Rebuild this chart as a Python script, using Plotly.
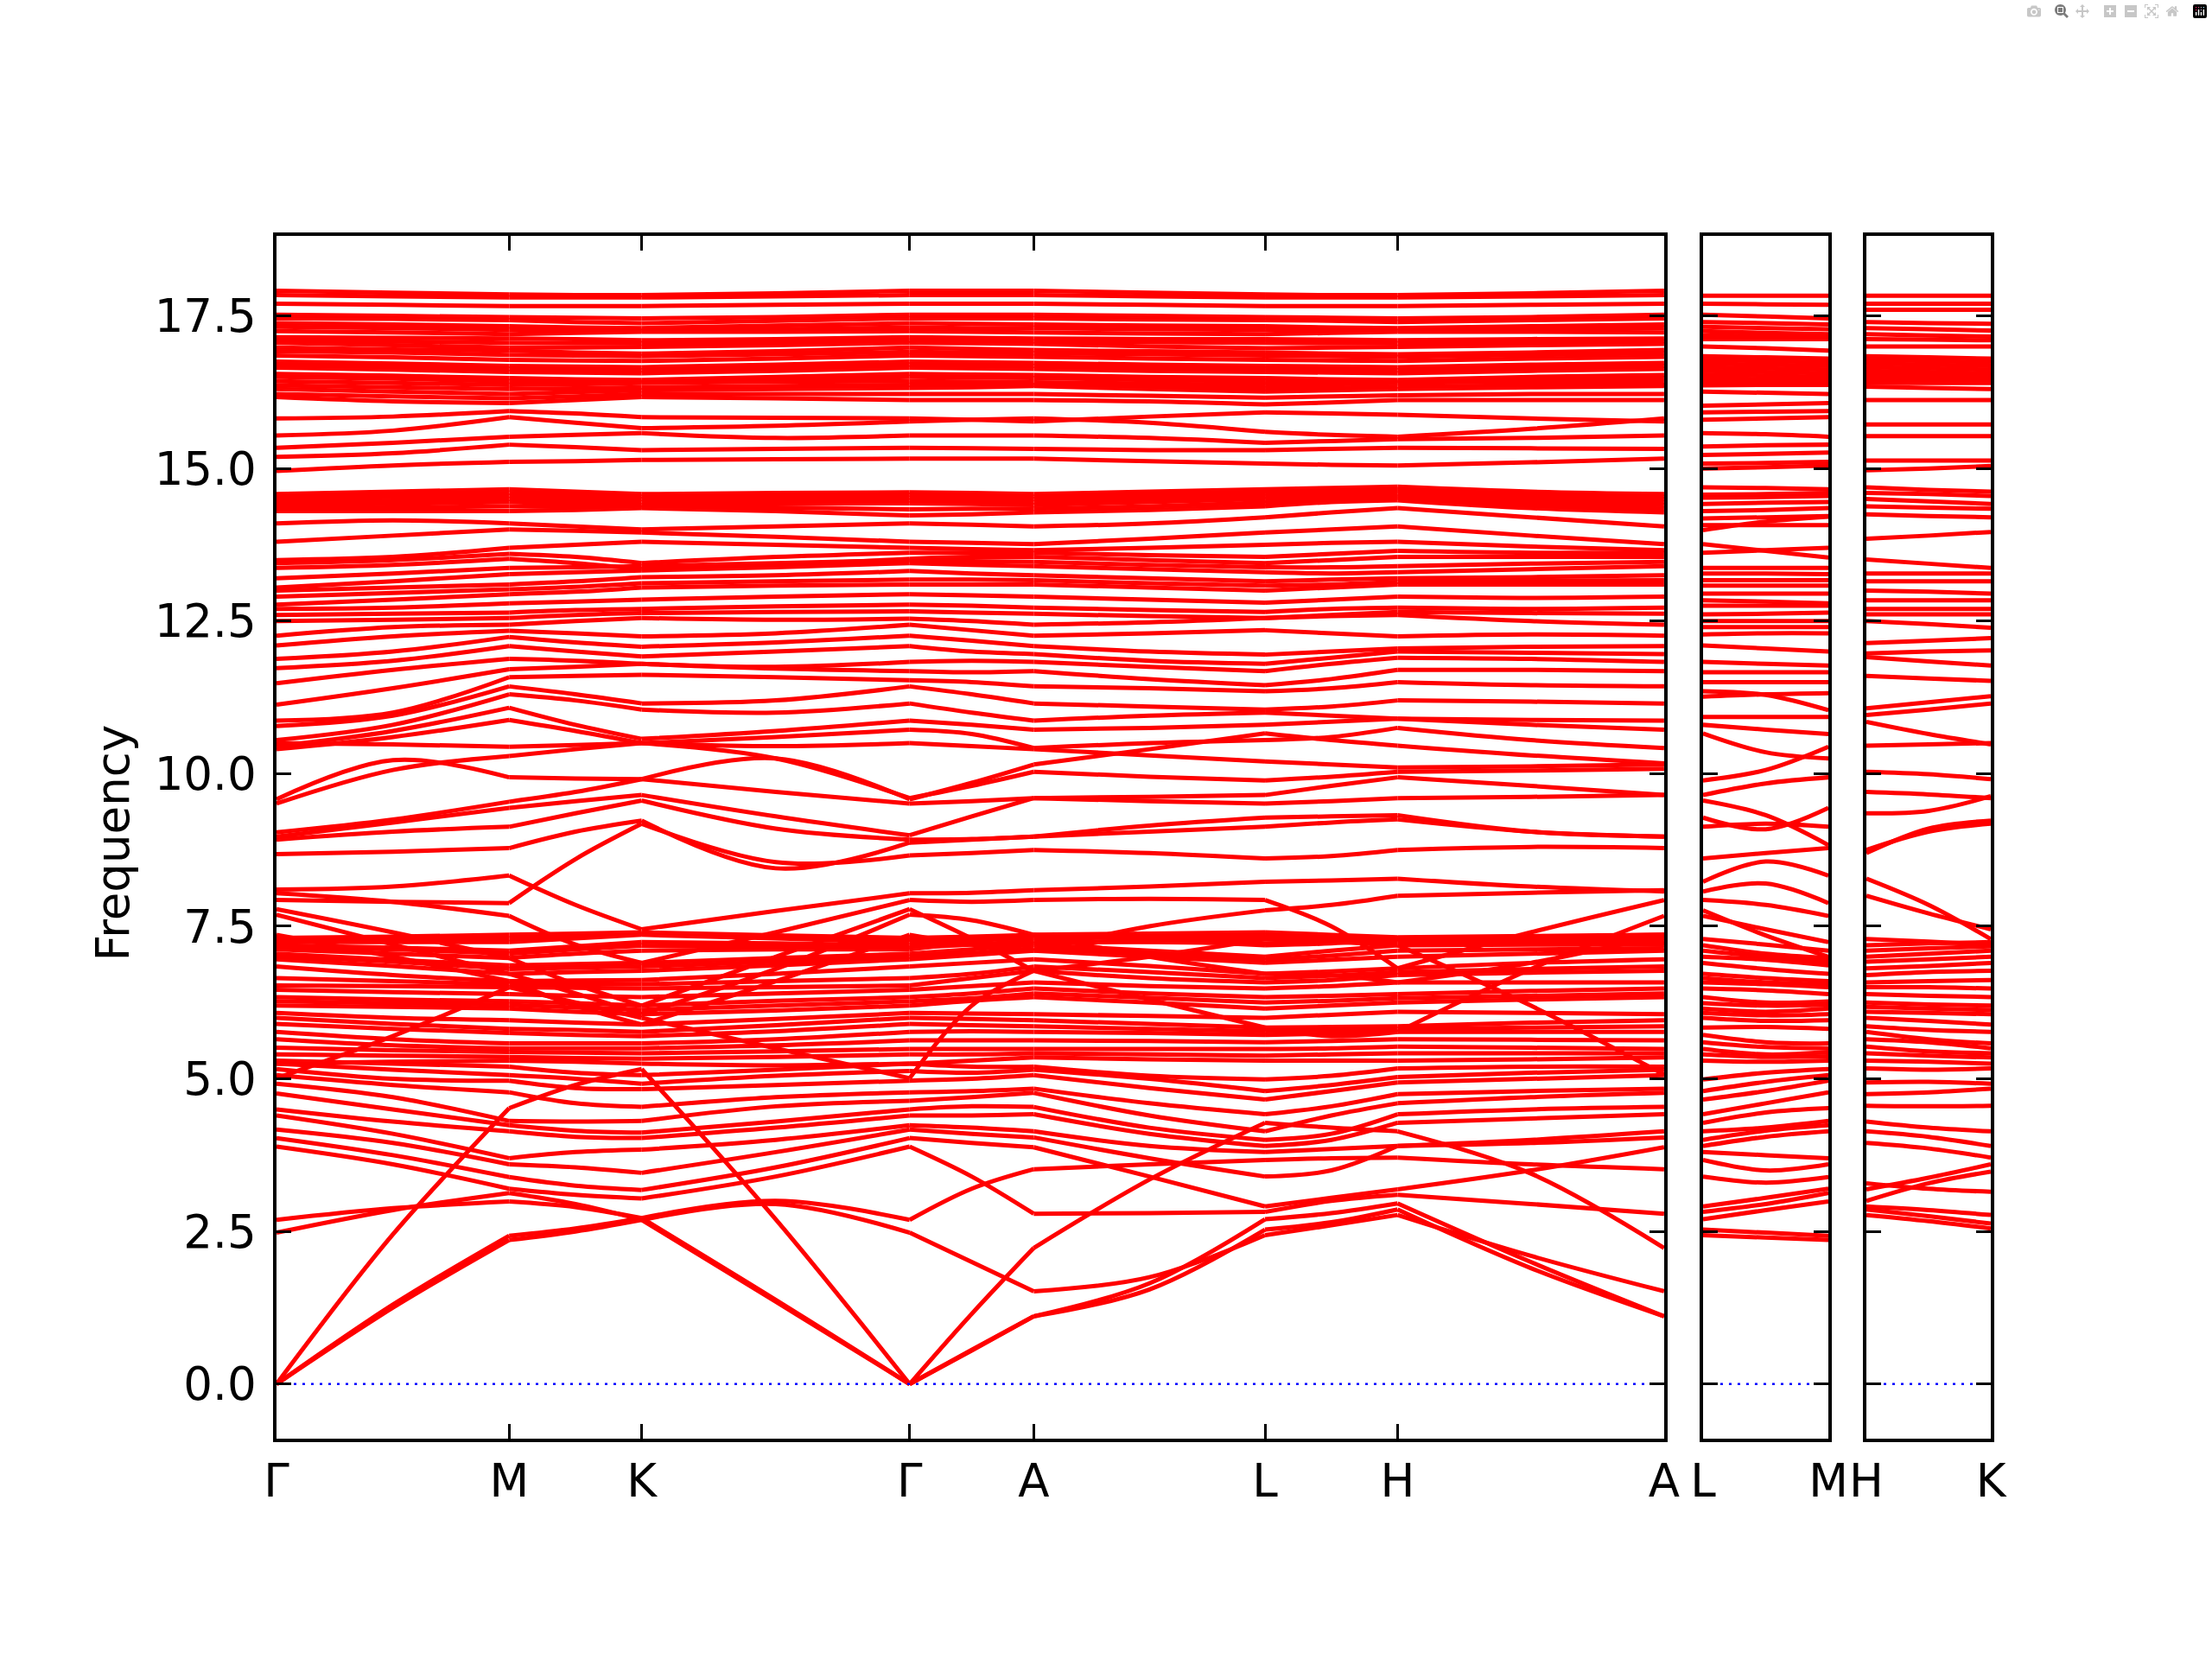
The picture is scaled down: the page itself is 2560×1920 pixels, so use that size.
import plotly.graph_objects as go

# ---------------- k-path (distance along path) ----------------
# main path sample points: G, mid, M, mid, K, mid, G, mid, A, mid, L, mid, H, mid, A
main_k = [0.0, 0.825, 1.65, 2.12, 2.59, 3.54, 4.49, 4.93, 5.37, 6.19, 7.01, 7.48, 7.95, 8.895, 9.84]
main_tick_k = [0.0, 1.65, 2.59, 4.49, 5.37, 7.01, 7.95, 9.84]
main_tick_labels = ["Γ", "M", "K", "Γ", "A", "L", "H", "A"]
lm_k = [0.0, 0.445, 0.89]
lm_tick_k = [0.0, 0.89]
lm_tick_labels = ["L", "M"]
hk_k = [0.0, 0.44, 0.88]
hk_tick_k = [0.0, 0.88]
hk_tick_labels = ["H", "K"]

# ---------------- band frequencies ----------------
low_bands = [
    [0.00, 1.25, 2.36, 2.50, 2.69, 2.95, 2.48, 2.00, 1.52, 1.75, 2.44, 2.60, 2.77, 2.10, 1.52],
    [0.00, 1.30, 2.43, 2.55, 2.72, 3.00, 2.69, 3.20, 3.52, 3.60, 3.67, 3.70, 3.71, 3.60, 3.52],
    [2.48, 2.85, 3.13, 2.95, 2.69, 1.35, 0.00, 0.55, 1.11, 1.55, 2.53, 2.65, 2.86, 1.90, 1.11],
    [2.69, 2.88, 2.99, 2.90, 2.72, 1.38, 0.00, 0.56, 1.11, 1.65, 2.70, 2.80, 2.96, 2.00, 1.11],
    [0.00, 2.45, 4.52, 4.90, 5.16, 2.70, 0.00, 1.15, 2.23, 3.35, 4.28, 4.20, 4.14, 3.45, 2.23],
    [3.89, 3.60, 3.20, 3.10, 3.04, 3.40, 3.89, 3.40, 2.79, 2.80, 2.82, 3.00, 3.10, 2.95, 2.79],
    [4.03, 3.75, 3.39, 3.25, 3.18, 3.55, 4.03, 3.95, 3.88, 3.40, 2.91, 3.05, 3.19, 3.50, 3.88],
    [4.17, 3.95, 3.60, 3.55, 3.46, 3.80, 4.17, 4.10, 4.04, 3.70, 3.40, 3.50, 3.90, 3.95, 4.04],
    [4.40, 4.10, 3.70, 3.80, 3.84, 4.00, 4.24, 4.20, 4.14, 3.90, 3.80, 3.85, 3.90, 4.00, 4.14],
    [4.50, 4.30, 4.14, 4.05, 4.03, 4.20, 4.40, 4.40, 4.42, 4.10, 3.90, 4.00, 4.28, 4.35, 4.42],
    [4.76, 4.50, 4.24, 4.15, 4.12, 4.30, 4.50, 4.55, 4.54, 4.20, 4.00, 4.10, 4.42, 4.50, 4.54],
    [4.92, 4.70, 4.31, 4.30, 4.31, 4.55, 4.64, 4.70, 4.77, 4.40, 4.14, 4.40, 4.60, 4.70, 4.77],
    [5.06, 4.90, 4.78, 4.60, 4.54, 4.70, 4.78, 4.80, 4.84, 4.60, 4.42, 4.55, 4.75, 4.80, 4.84],
    [5.16, 5.00, 4.97, 4.85, 4.83, 4.90, 4.97, 5.00, 5.06, 4.85, 4.66, 4.80, 4.94, 5.00, 5.06],
    [5.25, 5.15, 5.06, 5.00, 4.92, 5.05, 5.13, 5.10, 5.15, 5.00, 4.80, 4.90, 5.03, 5.10, 5.15],
    [5.30, 5.25, 5.20, 5.10, 5.06, 5.15, 5.25, 5.20, 5.20, 5.05, 4.99, 5.05, 5.17, 5.20, 5.20],
]

mid_bands = [
    [5.25, 5.28, 5.30, 5.28, 5.25, 5.22, 5.25, 5.30, 5.35, 5.32, 5.30, 5.30, 5.30, 5.32, 5.35],
    [5.40, 5.38, 5.36, 5.34, 5.33, 5.36, 5.40, 5.40, 5.42, 5.40, 5.38, 5.40, 5.42, 5.42, 5.42],
    [5.51, 5.47, 5.44, 5.43, 5.42, 5.45, 5.49, 5.49, 5.49, 5.49, 5.49, 5.50, 5.53, 5.51, 5.49],
    [5.65, 5.55, 5.50, 5.50, 5.50, 5.55, 5.63, 5.63, 5.63, 5.62, 5.60, 5.62, 5.65, 5.64, 5.63],
    [5.77, 5.65, 5.58, 5.58, 5.58, 5.65, 5.77, 5.78, 5.77, 5.75, 5.72, 5.74, 5.77, 5.77, 5.77],
    [5.90, 5.82, 5.75, 5.72, 5.70, 5.78, 5.90, 5.88, 5.86, 5.82, 5.78, 5.80, 5.82, 5.84, 5.86],
    [6.00, 5.90, 5.82, 5.80, 5.77, 5.88, 6.00, 5.98, 5.96, 5.90, 5.84, 5.85, 5.86, 5.92, 5.96],
    [6.08, 6.00, 5.96, 5.92, 5.89, 5.98, 6.08, 6.07, 6.06, 6.03, 6.00, 6.05, 6.10, 6.08, 6.06],
    [6.20, 6.18, 6.15, 6.10, 6.06, 6.12, 6.20, 6.28, 6.34, 6.25, 6.15, 6.20, 6.25, 6.30, 6.34],
    [6.27, 6.24, 6.21, 6.17, 6.13, 6.20, 6.27, 6.32, 6.40, 6.33, 6.25, 6.28, 6.32, 6.36, 6.40],
    [6.34, 6.30, 6.27, 6.24, 6.20, 6.28, 6.34, 6.40, 6.48, 6.40, 6.34, 6.36, 6.39, 6.44, 6.48],
    [6.46, 6.42, 6.39, 6.36, 6.34, 6.40, 6.46, 6.52, 6.58, 6.52, 6.48, 6.52, 6.58, 6.58, 6.58],
    [6.53, 6.52, 6.50, 6.49, 6.48, 6.50, 6.53, 6.65, 6.77, 6.65, 6.58, 6.62, 6.70, 6.74, 6.77],
    [6.65, 6.60, 6.55, 6.55, 6.55, 6.60, 6.65, 6.72, 6.84, 6.75, 6.65, 6.69, 6.75, 6.80, 6.84],
    [6.84, 6.70, 6.60, 6.61, 6.62, 6.72, 6.84, 6.90, 6.96, 6.85, 6.72, 6.76, 6.81, 6.90, 6.96],
    [6.96, 6.85, 6.72, 6.75, 6.77, 6.86, 6.96, 7.03, 7.10, 7.00, 6.90, 6.95, 7.00, 7.05, 7.10],
    [7.00, 6.92, 6.80, 6.82, 6.84, 6.92, 7.00, 7.06, 7.14, 7.05, 6.95, 7.02, 7.10, 7.12, 7.14],
    [7.05, 6.95, 6.86, 6.88, 6.90, 6.98, 7.05, 7.12, 7.20, 7.10, 7.00, 7.10, 7.19, 7.20, 7.20],
    [7.12, 7.05, 6.98, 7.05, 7.10, 7.12, 7.12, 7.24, 7.36, 7.28, 7.19, 7.22, 7.29, 7.32, 7.36],
    [7.15, 7.12, 7.05, 7.12, 7.18, 7.17, 7.15, 7.20, 7.26, 7.24, 7.22, 7.24, 7.27, 7.27, 7.26],
    [7.19, 7.15, 7.10, 7.17, 7.24, 7.22, 7.19, 7.21, 7.22, 7.25, 7.29, 7.28, 7.25, 7.24, 7.22],
    [7.24, 7.24, 7.24, 7.30, 7.36, 7.30, 7.24, 7.28, 7.30, 7.32, 7.33, 7.32, 7.30, 7.30, 7.30],
    [7.28, 7.28, 7.30, 7.34, 7.38, 7.33, 7.28, 7.30, 7.33, 7.35, 7.36, 7.33, 7.31, 7.32, 7.33],
    [7.31, 7.33, 7.36, 7.38, 7.40, 7.35, 7.31, 7.33, 7.36, 7.38, 7.40, 7.36, 7.32, 7.34, 7.36],
    [7.69, 7.20, 6.72, 6.40, 6.06, 6.80, 7.69, 7.60, 7.36, 7.00, 6.72, 6.70, 6.58, 6.90, 7.36],
    [7.78, 7.40, 6.98, 6.55, 6.20, 7.00, 7.78, 7.30, 6.77, 6.30, 5.84, 5.70, 5.77, 6.80, 7.67],
    [5.01, 5.70, 6.50, 6.25, 6.00, 5.50, 5.01, 6.20, 6.77, 7.00, 7.29, 7.25, 7.19, 6.20, 5.07],
    [8.04, 7.90, 7.67, 7.20, 6.90, 7.40, 7.93, 7.90, 7.93, 7.95, 7.93, 7.50, 6.81, 7.40, 7.93],
    [7.36, 7.00, 6.60, 6.20, 5.89, 6.60, 7.36, 7.20, 7.10, 7.50, 7.76, 7.85, 8.00, 8.05, 8.09],
]

high_bands = [
    [8.10, 8.15, 8.33, 7.85, 7.45, 7.75, 8.04, 8.05, 8.09, 8.15, 8.23, 8.25, 8.28, 8.15, 8.07],
    [7.93, 7.90, 7.88, 8.60, 9.18, 8.55, 8.66, 8.70, 8.75, 8.70, 8.61, 8.65, 8.75, 8.80, 8.78],
    [8.68, 8.72, 8.78, 9.05, 9.23, 8.45, 8.87, 8.92, 8.97, 9.05, 9.13, 9.20, 9.25, 9.05, 8.97],
    [8.92, 9.05, 9.13, 9.35, 9.56, 9.10, 8.92, 8.93, 8.97, 9.15, 9.28, 9.30, 9.32, 9.05, 8.97],
    [8.97, 9.20, 9.44, 9.55, 9.65, 9.30, 8.99, 9.30, 9.60, 9.55, 9.51, 9.55, 9.60, 9.62, 9.65],
    [9.04, 9.25, 9.54, 9.70, 9.91, 9.70, 9.51, 9.55, 9.60, 9.62, 9.65, 9.80, 9.94, 9.80, 9.65],
    [9.51, 10.06, 10.29, 10.40, 10.50, 10.25, 9.60, 9.80, 10.03, 9.95, 9.89, 9.95, 10.03, 10.05, 10.08],
    [9.58, 10.22, 9.94, 9.92, 9.91, 10.25, 9.58, 9.85, 10.15, 10.40, 10.66, 10.55, 10.46, 10.30, 10.17],
    [10.50, 10.48, 10.44, 10.47, 10.50, 10.45, 10.50, 10.45, 10.40, 10.30, 10.20, 10.15, 10.10, 10.12, 10.15],
]

upper_bands = [
    [17.91, 17.88, 17.85, 17.84, 17.84, 17.87, 17.91, 17.91, 17.91, 17.88, 17.85, 17.84, 17.84, 17.87, 17.91],
    [17.84, 17.82, 17.80, 17.80, 17.80, 17.82, 17.84, 17.84, 17.84, 17.82, 17.80, 17.80, 17.80, 17.82, 17.84],
    [17.70, 17.68, 17.66, 17.66, 17.66, 17.68, 17.70, 17.70, 17.70, 17.68, 17.66, 17.66, 17.66, 17.68, 17.70],
    [17.52, 17.50, 17.48, 17.47, 17.46, 17.48, 17.52, 17.52, 17.52, 17.50, 17.48, 17.47, 17.46, 17.48, 17.52],
    [17.46, 17.45, 17.43, 17.40, 17.38, 17.42, 17.46, 17.46, 17.46, 17.44, 17.43, 17.42, 17.40, 17.43, 17.46],
    [17.38, 17.36, 17.33, 17.31, 17.30, 17.34, 17.38, 17.37, 17.36, 17.34, 17.33, 17.31, 17.30, 17.33, 17.36],
    [17.32, 17.30, 17.27, 17.26, 17.26, 17.28, 17.31, 17.30, 17.30, 17.28, 17.27, 17.26, 17.26, 17.28, 17.30],
    [17.25, 17.23, 17.20, 17.22, 17.24, 17.24, 17.25, 17.24, 17.23, 17.21, 17.20, 17.22, 17.24, 17.24, 17.23],
    [17.15, 17.14, 17.13, 17.12, 17.10, 17.12, 17.15, 17.14, 17.13, 17.12, 17.12, 17.11, 17.10, 17.12, 17.13],
    [17.10, 17.08, 17.06, 17.05, 17.05, 17.07, 17.09, 17.09, 17.08, 17.07, 17.06, 17.05, 17.05, 17.07, 17.08],
    [17.06, 17.02, 16.98, 16.98, 16.99, 17.02, 17.06, 17.05, 17.04, 17.00, 16.97, 16.98, 16.99, 17.02, 17.04],
    [16.98, 16.95, 16.93, 16.90, 16.88, 16.92, 16.98, 16.96, 16.94, 16.92, 16.90, 16.88, 16.87, 16.90, 16.94],
    [16.92, 16.90, 16.86, 16.85, 16.84, 16.87, 16.91, 16.90, 16.89, 16.87, 16.85, 16.84, 16.83, 16.86, 16.89],
    [16.85, 16.82, 16.78, 16.77, 16.76, 16.80, 16.85, 16.84, 16.83, 16.80, 16.78, 16.77, 16.76, 16.80, 16.83],
    [16.75, 16.72, 16.68, 16.67, 16.66, 16.70, 16.75, 16.74, 16.73, 16.70, 16.68, 16.67, 16.66, 16.70, 16.73],
    [16.70, 16.67, 16.63, 16.62, 16.61, 16.65, 16.70, 16.69, 16.68, 16.65, 16.63, 16.62, 16.61, 16.65, 16.68],
    [16.65, 16.62, 16.58, 16.57, 16.56, 16.60, 16.65, 16.64, 16.63, 16.60, 16.58, 16.57, 16.56, 16.60, 16.63],
    [16.55, 16.52, 16.48, 16.46, 16.45, 16.50, 16.55, 16.54, 16.53, 16.50, 16.48, 16.46, 16.45, 16.50, 16.53],
    [16.50, 16.47, 16.43, 16.42, 16.42, 16.46, 16.50, 16.49, 16.48, 16.45, 16.43, 16.42, 16.42, 16.45, 16.48],
    [16.43, 16.40, 16.37, 16.38, 16.40, 16.42, 16.43, 16.42, 16.41, 16.39, 16.37, 16.38, 16.40, 16.42, 16.41],
    [16.36, 16.33, 16.30, 16.31, 16.33, 16.35, 16.37, 16.37, 16.37, 16.34, 16.31, 16.32, 16.34, 16.36, 16.37],
    [16.30, 16.26, 16.22, 16.25, 16.28, 16.30, 16.32, 16.33, 16.35, 16.30, 16.26, 16.28, 16.30, 16.33, 16.35],
    [16.22, 16.18, 16.15, 16.18, 16.22, 16.22, 16.22, 16.22, 16.22, 16.19, 16.16, 16.18, 16.20, 16.22, 16.22],
    [16.17, 16.10, 16.07, 16.12, 16.17, 16.15, 16.12, 16.12, 16.12, 16.10, 16.05, 16.08, 16.12, 16.12, 16.12],
    [15.82, 15.85, 15.94, 15.90, 15.84, 15.83, 15.82, 15.80, 15.77, 15.85, 15.92, 15.90, 15.88, 15.82, 15.77],
    [15.54, 15.62, 15.84, 15.75, 15.66, 15.70, 15.77, 15.80, 15.82, 15.75, 15.60, 15.55, 15.52, 15.65, 15.82],
    [15.34, 15.42, 15.52, 15.55, 15.58, 15.50, 15.54, 15.54, 15.54, 15.50, 15.42, 15.45, 15.48, 15.50, 15.54],
    [15.19, 15.25, 15.39, 15.35, 15.30, 15.32, 15.34, 15.33, 15.32, 15.30, 15.30, 15.32, 15.34, 15.33, 15.32],
    [14.96, 15.05, 15.11, 15.12, 15.14, 15.15, 15.16, 15.16, 15.16, 15.12, 15.08, 15.06, 15.05, 15.10, 15.16],
    [14.58, 14.62, 14.66, 14.62, 14.58, 14.60, 14.61, 14.60, 14.58, 14.62, 14.66, 14.68, 14.70, 14.62, 14.58],
    [14.54, 14.57, 14.60, 14.57, 14.54, 14.56, 14.57, 14.56, 14.54, 14.58, 14.63, 14.65, 14.66, 14.58, 14.54],
    [14.50, 14.53, 14.55, 14.52, 14.50, 14.52, 14.52, 14.51, 14.50, 14.55, 14.60, 14.62, 14.63, 14.55, 14.50],
    [14.45, 14.47, 14.50, 14.47, 14.45, 14.47, 14.48, 14.47, 14.45, 14.50, 14.55, 14.57, 14.59, 14.50, 14.45],
    [14.40, 14.42, 14.45, 14.42, 14.40, 14.42, 14.43, 14.42, 14.40, 14.45, 14.50, 14.52, 14.55, 14.45, 14.40],
    [14.35, 14.36, 14.38, 14.37, 14.37, 14.36, 14.33, 14.34, 14.34, 14.38, 14.44, 14.48, 14.52, 14.40, 14.34],
    [14.30, 14.30, 14.30, 14.32, 14.35, 14.30, 14.23, 14.25, 14.28, 14.32, 14.38, 14.45, 14.48, 14.35, 14.28],
    [14.10, 14.15, 14.10, 14.05, 14.00, 14.05, 14.10, 14.08, 14.05, 14.10, 14.20, 14.28, 14.35, 14.20, 14.05],
    [13.80, 13.90, 14.00, 13.98, 13.95, 13.88, 13.80, 13.78, 13.76, 13.85, 13.95, 14.00, 14.05, 13.90, 13.76],
    [13.50, 13.55, 13.70, 13.75, 13.80, 13.75, 13.70, 13.68, 13.66, 13.70, 13.75, 13.78, 13.80, 13.72, 13.66],
    [13.45, 13.50, 13.60, 13.55, 13.45, 13.55, 13.62, 13.62, 13.62, 13.58, 13.55, 13.60, 13.65, 13.62, 13.62],
    [13.37, 13.42, 13.52, 13.45, 13.35, 13.42, 13.52, 13.55, 13.55, 13.50, 13.45, 13.50, 13.55, 13.55, 13.55],
    [13.20, 13.28, 13.37, 13.38, 13.40, 13.45, 13.50, 13.48, 13.47, 13.42, 13.38, 13.38, 13.40, 13.44, 13.47],
    [13.05, 13.15, 13.27, 13.30, 13.33, 13.38, 13.45, 13.42, 13.40, 13.35, 13.30, 13.28, 13.30, 13.35, 13.40],
    [13.00, 13.05, 13.10, 13.15, 13.22, 13.25, 13.32, 13.28, 13.25, 13.20, 13.15, 13.18, 13.20, 13.22, 13.25],
    [12.90, 12.96, 13.02, 13.06, 13.12, 13.15, 13.18, 13.18, 13.17, 13.12, 13.08, 13.10, 13.14, 13.16, 13.17],
    [12.77, 12.85, 12.94, 12.98, 13.05, 13.08, 13.10, 13.10, 13.10, 13.05, 13.00, 13.05, 13.10, 13.10, 13.10],
    [12.70, 12.72, 12.79, 12.82, 12.85, 12.90, 12.94, 12.92, 12.90, 12.85, 12.80, 12.85, 12.90, 12.88, 12.90],
    [12.60, 12.62, 12.64, 12.68, 12.70, 12.74, 12.77, 12.75, 12.72, 12.68, 12.65, 12.70, 12.72, 12.70, 12.72],
    [12.50, 12.52, 12.55, 12.60, 12.63, 12.65, 12.66, 12.64, 12.62, 12.58, 12.55, 12.60, 12.65, 12.63, 12.62],
    [12.26, 12.40, 12.44, 12.50, 12.55, 12.52, 12.54, 12.50, 12.44, 12.48, 12.55, 12.58, 12.60, 12.50, 12.44],
    [12.10, 12.25, 12.34, 12.30, 12.25, 12.30, 12.44, 12.35, 12.26, 12.30, 12.35, 12.30, 12.25, 12.28, 12.26],
    [11.88, 12.00, 12.24, 12.15, 12.08, 12.15, 12.26, 12.18, 12.09, 12.00, 11.95, 12.00, 12.05, 12.08, 12.09],
    [11.73, 11.85, 12.09, 12.00, 11.92, 12.00, 12.09, 12.00, 11.96, 11.85, 11.80, 11.90, 12.00, 11.98, 11.96],
    [11.48, 11.70, 11.88, 11.85, 11.80, 11.75, 11.83, 11.85, 11.83, 11.75, 11.68, 11.80, 11.90, 11.88, 11.83],
    [11.13, 11.40, 11.71, 11.75, 11.80, 11.72, 11.68, 11.66, 11.68, 11.55, 11.45, 11.55, 11.70, 11.70, 11.68],
    [10.87, 11.00, 11.58, 11.60, 11.62, 11.58, 11.53, 11.50, 11.43, 11.40, 11.35, 11.40, 11.50, 11.45, 11.43],
    [10.78, 10.95, 11.43, 11.30, 11.15, 11.20, 11.43, 11.30, 11.15, 11.10, 11.05, 11.10, 11.20, 11.18, 11.15],
    [10.55, 10.80, 11.30, 11.20, 11.05, 11.00, 11.15, 11.00, 10.87, 10.95, 11.00, 10.95, 10.90, 10.88, 10.87],
    [10.45, 10.70, 11.08, 10.80, 10.57, 10.70, 10.87, 10.80, 10.72, 10.75, 10.80, 10.85, 10.90, 10.80, 10.72],
    [10.40, 10.60, 10.88, 10.70, 10.50, 10.60, 10.72, 10.65, 10.42, 10.50, 10.55, 10.60, 10.75, 10.55, 10.42],
]

# L - M panel: [L, mid, M]
lm_bands = [
    [2.44, 2.40, 2.36], [2.53, 2.48, 2.43], [2.70, 2.85, 2.99], [2.82, 2.95, 3.13], [2.91, 3.05, 3.20],
    [3.40, 3.30, 3.39], [3.67, 3.50, 3.60], [3.80, 3.75, 3.70], [3.90, 4.05, 4.14], [4.00, 4.15, 4.24],
    [4.14, 4.20, 4.31], [4.28, 4.45, 4.52], [4.42, 4.60, 4.78], [4.66, 4.80, 4.97], [4.80, 4.95, 5.06],
    [4.99, 5.10, 5.16],
    [5.30, 5.28, 5.30], [5.40, 5.36, 5.37], [5.49, 5.40, 5.44], [5.60, 5.52, 5.50], [5.72, 5.60, 5.58],
    [5.84, 5.85, 5.82], [6.00, 5.95, 5.96], [6.08, 6.04, 6.06], [6.15, 6.10, 6.15], [6.24, 6.20, 6.21],
    [6.34, 6.25, 6.27], [6.48, 6.45, 6.39], [6.58, 6.55, 6.50], [6.65, 6.58, 6.55], [6.72, 6.65, 6.60],
    [6.90, 6.80, 6.72], [7.00, 6.95, 6.86], [7.10, 7.00, 6.92], [7.19, 7.05, 6.98], [7.29, 7.20, 7.10],
    [7.67, 7.45, 7.24], [7.76, 7.35, 7.00], [7.93, 7.85, 7.67], [8.07, 8.20, 7.88], [8.23, 8.56, 8.33],
    [8.61, 8.70, 8.78], [9.56, 9.32, 8.83], [9.13, 9.18, 9.13], [9.28, 9.09, 9.44], [9.65, 9.84, 9.94],
    [9.89, 10.06, 10.44], [10.66, 10.35, 10.25],
    [10.80, 10.72, 10.65], [10.93, 10.93, 10.93], [11.26, 11.30, 11.32], [11.35, 11.29, 11.04],
    [11.50, 11.50, 11.50], [11.66, 11.66, 11.66], [11.83, 11.80, 11.77], [12.10, 12.05, 12.00],
    [12.28, 12.30, 12.30], [12.40, 12.40, 12.40], [12.50, 12.50, 12.50], [12.61, 12.62, 12.64],
    [12.75, 12.75, 12.75], [12.84, 12.82, 12.79], [12.95, 12.95, 12.95], [13.08, 13.08, 13.08],
    [13.17, 13.17, 13.17], [13.28, 13.28, 13.27], [13.37, 13.37, 13.37], [13.62, 13.66, 13.70],
    [13.76, 13.65, 13.54], [14.07, 14.07, 14.07], [13.99, 14.13, 14.21], [14.18, 14.20, 14.22],
    [14.30, 14.32, 14.35], [14.42, 14.44, 14.45], [14.52, 14.53, 14.55], [14.57, 14.58, 14.60],
    [14.69, 14.68, 14.66], [15.00, 15.02, 15.05], [15.08, 15.09, 15.11], [15.22, 15.24, 15.26],
    [15.36, 15.38, 15.39], [15.58, 15.56, 15.52], [15.80, 15.82, 15.84], [15.92, 15.93, 15.94],
    [16.03, 16.05, 16.07], [16.26, 16.24, 16.22], [16.36, 16.37, 16.37], [16.42, 16.41, 16.40],
    [16.48, 16.46, 16.45], [16.54, 16.52, 16.50], [16.60, 16.58, 16.56], [16.66, 16.64, 16.62],
    [16.72, 16.70, 16.68], [16.78, 16.76, 16.74], [16.84, 16.82, 16.80], [17.00, 16.97, 16.93],
    [17.12, 17.12, 17.12], [17.18, 17.17, 17.16], [17.25, 17.22, 17.20], [17.32, 17.30, 17.28],
    [17.40, 17.38, 17.36], [17.52, 17.49, 17.46], [17.70, 17.69, 17.68], [17.83, 17.83, 17.83],
]

# H - K panel: [H, mid, K]
hk_bands = [
    [2.77, 2.67, 2.55], [2.86, 2.75, 2.63], [2.91, 2.85, 2.77], [3.00, 3.29, 3.48], [3.19, 3.38, 3.60],
    [3.29, 3.20, 3.15], [3.95, 3.86, 3.71], [4.14, 4.05, 3.90], [4.30, 4.20, 4.14], [4.56, 4.55, 4.56],
    [4.75, 4.78, 4.84], [4.94, 4.95, 4.92], [5.17, 5.15, 5.17],
    [5.30, 5.28, 5.25], [5.42, 5.38, 5.35], [5.53, 5.45, 5.42], [5.65, 5.60, 5.50], [5.77, 5.65, 5.58],
    [5.86, 5.80, 5.77], [6.00, 5.95, 5.89], [6.10, 6.08, 6.06], [6.18, 6.15, 6.13], [6.25, 6.22, 6.20],
    [6.39, 6.36, 6.34], [6.50, 6.50, 6.48], [6.58, 6.60, 6.62], [6.70, 6.75, 6.77], [6.81, 6.85, 6.90],
    [6.92, 6.96, 7.00], [7.00, 7.05, 7.10], [7.10, 7.14, 7.17], [7.19, 7.22, 7.24], [7.29, 7.25, 7.20],
    [8.00, 7.71, 7.45], [8.28, 7.85, 7.29],
    [8.75, 9.05, 9.18], [8.70, 9.10, 9.23], [9.35, 9.39, 9.63], [9.70, 9.66, 9.60], [10.03, 9.99, 9.91],
    [10.46, 10.48, 10.50],
    [10.85, 10.65, 10.48], [10.96, 11.05, 11.15], [11.07, 11.17, 11.27], [11.60, 11.56, 11.52],
    [11.91, 11.84, 11.77], [11.97, 12.00, 12.02], [12.14, 12.18, 12.22], [12.50, 12.45, 12.39],
    [12.61, 12.61, 12.61], [12.70, 12.70, 12.70], [12.84, 12.84, 12.84], [13.00, 12.98, 12.95],
    [13.15, 13.15, 13.15], [13.28, 13.28, 13.28], [13.51, 13.44, 13.37], [13.85, 13.90, 13.96],
    [14.25, 14.22, 14.20], [14.38, 14.36, 14.34], [14.50, 14.46, 14.42], [14.60, 14.58, 14.55],
    [14.69, 14.65, 14.62], [14.97, 15.00, 15.04], [15.13, 15.13, 15.13], [15.53, 15.53, 15.53],
    [15.72, 15.72, 15.72], [16.12, 16.12, 16.12], [16.34, 16.32, 16.30], [16.40, 16.40, 16.40],
    [16.45, 16.44, 16.43], [16.50, 16.48, 16.46], [16.55, 16.53, 16.51], [16.60, 16.58, 16.56],
    [16.66, 16.64, 16.62], [16.72, 16.70, 16.68], [16.78, 16.76, 16.74], [16.84, 16.82, 16.80],
    [17.00, 17.00, 17.00], [17.12, 17.11, 17.10], [17.20, 17.18, 17.16], [17.30, 17.28, 17.26],
    [17.40, 17.38, 17.37], [17.60, 17.60, 17.60], [17.70, 17.70, 17.70], [17.83, 17.83, 17.83],
]

y_ticks = [0.0, 2.5, 5.0, 7.5, 10.0, 12.5, 15.0, 17.5]
y_range = [-0.895, 18.81]

RED = "rgb(255,0,0)"
FONT = "DejaVu Sans"
LW = 5


def segment_xy(kx, bands):
    xs, ys = [], []
    for band in bands:
        for s in range(0, len(kx) - 1, 2):
            xs += [kx[s], kx[s + 1], kx[s + 2], None]
            ys += [band[s], band[s + 1], band[s + 2], None]
    return xs, ys


fig = go.Figure()

for group in (low_bands, mid_bands, high_bands, upper_bands):
    xs, ys = segment_xy(main_k, group)
    fig.add_trace(go.Scatter(x=xs, y=ys, mode="lines", xaxis="x", yaxis="y",
                             line=dict(color=RED, width=LW, shape="spline"),
                             hoverinfo="skip", showlegend=False))

xs, ys = segment_xy(lm_k, lm_bands)
fig.add_trace(go.Scatter(x=xs, y=ys, mode="lines", xaxis="x2", yaxis="y2",
                         line=dict(color=RED, width=LW, shape="spline"),
                         hoverinfo="skip", showlegend=False))
xs, ys = segment_xy(hk_k, hk_bands)
fig.add_trace(go.Scatter(x=xs, y=ys, mode="lines", xaxis="x3", yaxis="y3",
                         line=dict(color=RED, width=LW, shape="spline"),
                         hoverinfo="skip", showlegend=False))

# zero-frequency dotted lines
for xa, ya, kx in (("x", "y", main_k), ("x2", "y2", lm_k), ("x3", "y3", hk_k)):
    fig.add_trace(go.Scatter(x=[kx[0], kx[-1]], y=[0, 0], mode="lines", xaxis=xa, yaxis=ya,
                             line=dict(color="rgb(0,0,255)", width=2.5, dash="3px,7px"),
                             hoverinfo="skip", showlegend=False))

axis_common = dict(showline=True, linecolor="black", linewidth=3.5, mirror="ticks",
                   ticks="inside", ticklen=17, tickwidth=3, tickcolor="black",
                   showgrid=False, zeroline=False, automargin=False,
                   tickfont=dict(family=FONT, size=53, color="black"))

y_dom = [0.1328, 0.8578]
fig.update_layout(
    template="none",
    width=2560, height=1920,
    margin=dict(l=0, r=0, t=0, b=0, autoexpand=False),
    paper_bgcolor="white", plot_bgcolor="white",
    showlegend=False,
    xaxis=dict(domain=[0.125, 0.7523], range=[main_k[0], main_k[-1]],
               tickmode="array", tickvals=main_tick_k, ticktext=main_tick_labels,
               anchor="y", ticklabelstandoff=0, **axis_common),
    xaxis2=dict(domain=[0.7699, 0.8266], range=[lm_k[0], lm_k[-1]],
                tickmode="array", tickvals=lm_tick_k, ticktext=lm_tick_labels,
                anchor="y2", ticklabelstandoff=0, **axis_common),
    xaxis3=dict(domain=[0.84375, 0.9], range=[hk_k[0], hk_k[-1]],
                tickmode="array", tickvals=hk_tick_k, ticktext=hk_tick_labels,
                anchor="y3", ticklabelstandoff=0, **axis_common),
    yaxis=dict(domain=y_dom, range=y_range, tickmode="array", tickvals=y_ticks,
               ticktext=[f"{v:.1f}" for v in y_ticks], anchor="x",
               ticklabelstandoff=9, **axis_common),
    yaxis2=dict(domain=y_dom, range=y_range, tickmode="array", tickvals=y_ticks,
                showticklabels=False, anchor="x2", **axis_common),
    yaxis3=dict(domain=y_dom, range=y_range, tickmode="array", tickvals=y_ticks,
                showticklabels=False, anchor="x3", **axis_common),
    annotations=[dict(text="Frequency", x=0.051, y=0.4917, xref="paper", yref="paper",
                      showarrow=False, textangle=-90, xanchor="center", yanchor="middle",
                      font=dict(family=FONT, size=53, color="black"))],
)

fig.write_html("out.html", post_script="document.body.style.margin='0';")
